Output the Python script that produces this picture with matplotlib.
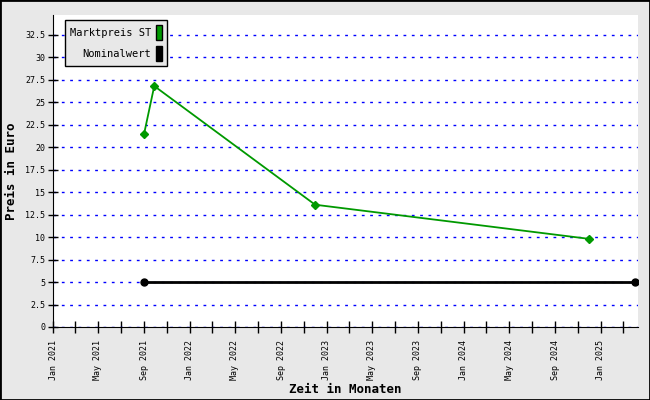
import numpy as np
import matplotlib.pyplot as plt
import matplotlib.dates as mdates
from matplotlib.patches import Patch
import datetime as dt

markt_dates = [dt.date(2021, 9, 1), dt.date(2021, 9, 28), dt.date(2022, 12, 1), dt.date(2024, 12, 1)]
markt_values = [21.5, 26.8, 13.6, 9.8]
nominal_dates = [dt.date(2021, 9, 1), dt.date(2025, 4, 1)]
nominal_values = [5, 5]
yticks = np.arange(0, 33, 2.5)

plt.rcParams['font.family'] = ['DejaVu Sans Mono']

fig = plt.figure(figsize=(6.5, 4), dpi=100, facecolor='#e8e8e8')
fig.patches.append(plt.Rectangle((0, 0), 1, 1, transform=fig.transFigure,
                                 fill=False, edgecolor='black', linewidth=2))
ax = fig.add_axes([53/650, 73/400, 585/650, 312/400])
ax.set_facecolor('white')

ax.plot(markt_dates, markt_values, color='#009900', linewidth=1.3,
        marker='D', markersize=4, zorder=3)
ax.plot(nominal_dates, nominal_values, color='black', linewidth=2,
        marker='o', markersize=5, zorder=3)

ax.set_ylim(0, 34.7)
ax.set_xlim(dt.date(2021, 1, 1), dt.date(2025, 4, 10))
ax.set_yticks(yticks)
ax.set_yticklabels(['%g' % v for v in yticks], fontsize=6)
ax.yaxis.grid(True, color='blue', linestyle=(0, (2, 4)), linewidth=1)
ax.set_axisbelow(True)

ax.xaxis.set_major_locator(mdates.MonthLocator(bymonth=[1, 3, 5, 7, 9, 11]))
def fmt(x, pos):
    d = mdates.num2date(x)
    if d.month in (1, 5, 9):
        return d.strftime('%b %Y')
    return ''
ax.xaxis.set_major_formatter(plt.FuncFormatter(fmt))
plt.setp(ax.get_xticklabels(), rotation=90, fontsize=6)
ax.tick_params(axis='x', direction='inout', length=9, width=1, pad=5)
ax.tick_params(axis='y', direction='inout', length=7, width=1, pad=2)

for s in ['top', 'right']:
    ax.spines[s].set_visible(False)

ax.set_xlabel('Zeit in Monaten', fontsize=9, fontweight='bold')
ax.xaxis.set_label_coords(0.5, -0.178)
ax.set_ylabel('Preis in Euro', fontsize=9, fontweight='bold')
ax.yaxis.set_label_coords(-0.06, 0.5)

handles = [Patch(facecolor='#009900', edgecolor='black', label='Marktpreis ST'),
           Patch(facecolor='black', edgecolor='black', label='Nominalwert')]
leg = ax.legend(handles=handles, loc='upper left', bbox_to_anchor=(0.0205, 0.984),
                borderaxespad=0, markerfirst=False, fontsize=7.5,
                handlelength=0.6, handleheight=1.8, handletextpad=0.4,
                labelspacing=0.6, fancybox=False,
                facecolor='#e8e8e8', edgecolor='black', framealpha=1,
                borderpad=0.5)
leg.get_frame().set_linewidth(1)
for t in leg.get_texts():
    t.set_ha('right')

fig.savefig('out.png', dpi=100, facecolor=fig.get_facecolor())
